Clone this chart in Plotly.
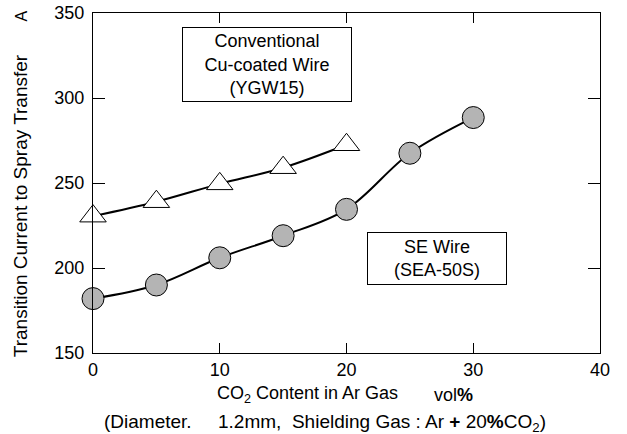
import plotly.graph_objects as go

# CO2 content (vol%) and transition current (A) for each wire
co2_se = [0, 5, 10, 15, 20, 25, 30]
current_se = [182, 190, 206, 219, 234.5, 267.5, 288.5]

co2_conv = [0, 5, 10, 15, 20]
current_conv = [230.5, 239, 249.5, 259, 272.5]

x_ticks = [0, 10, 20, 30, 40]
y_ticks = [150, 200, 250, 300, 350]

FONT = "Liberation Sans, Arial, sans-serif"

fig = go.Figure()

fig.add_trace(go.Scatter(
    x=co2_conv, y=current_conv, mode="lines+markers",
    line=dict(color="black", width=2, shape="spline"),
    marker=dict(symbol="triangle-up", size=23, color="white",
                line=dict(color="black", width=1)),
    cliponaxis=False, showlegend=False,
))

fig.add_trace(go.Scatter(
    x=co2_se, y=current_se, mode="lines+markers",
    line=dict(color="black", width=2, shape="spline"),
    marker=dict(symbol="circle", size=22, color="#b4b4b4",
                line=dict(color="black", width=1)),
    cliponaxis=False, showlegend=False,
))

axis_common = dict(
    showline=True, linecolor="black", linewidth=1, mirror="ticks",
    ticks="inside", tickcolor="black", tickwidth=1,
    showgrid=False, zeroline=False, automargin=False,
    tickfont=dict(family=FONT, size=18, color="black"),
)

fig.update_xaxes(range=[0, 40], tickvals=x_ticks, ticklen=10, **axis_common)
fig.update_yaxes(range=[150, 350], tickvals=y_ticks, ticklen=12,
                 ticklabelstandoff=4, **axis_common)

annotations = [
    # boxed series labels
    dict(text="Conventional<br>Cu-coated Wire<br>(YGW15)",
         x=0.3432, y=0.8485, width=166, height=71),
    dict(text="SE Wire<br>(SEA-50S)",
         x=0.6779, y=0.2785, width=136, height=49),
]
for a in annotations:
    a.update(xref="paper", yref="paper", xanchor="center", yanchor="middle",
             showarrow=False, bordercolor="black", borderwidth=1,
             bgcolor="white", borderpad=1,
             font=dict(family=FONT, size=18, color="black"))

texts = [
    dict(text="Transition Current to Spray Transfer", x=-0.144, y=0.4347,
         textangle=-90, size=19),
    dict(text="A", x=-0.142, y=0.99, textangle=-90, size=16),
    dict(text="CO<sub>2</sub> Content in Ar Gas", x=0.4227, y=-0.1226,
         textangle=0, size=18),
    dict(text="vol<b>%</b>", x=0.712, y=-0.1226, textangle=0, size=18),
    dict(text="(Diameter.\u00a0\u00a0\u00a0\u00a0 1.2mm,\u00a0 Shielding Gas : "
              "Ar <b>+</b> 20<b>%</b>CO<sub>2</sub>)",
         x=0.4576, y=-0.205, textangle=0, size=19),
]
for t in texts:
    annotations.append(dict(
        text=t["text"], x=t["x"], y=t["y"], textangle=t["textangle"],
        xref="paper", yref="paper", xanchor="center", yanchor="middle",
        showarrow=False, font=dict(family=FONT, size=t["size"], color="black"),
    ))

fig.update_layout(
    width=627, height=434,
    margin=dict(l=93, r=27, t=13, b=81),
    paper_bgcolor="white", plot_bgcolor="white",
    annotations=annotations,
)

fig.write_html("out.html")
